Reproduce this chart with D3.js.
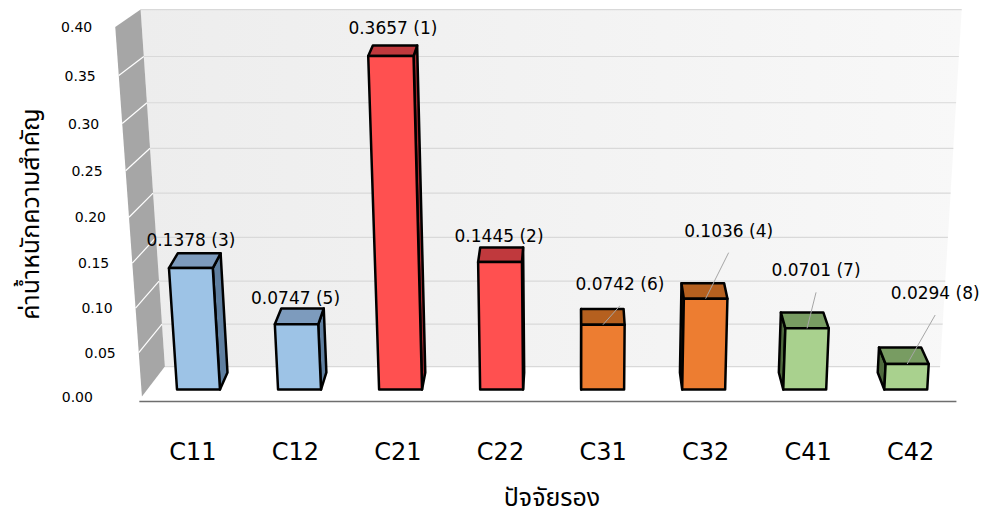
<!DOCTYPE html>
<html>
<head>
<meta charset="utf-8">
<script src="https://cdn.jsdelivr.net/npm/d3@7"></script>
<style>
  html, body { margin: 0; padding: 0; background: #fff; }
  svg { display: block; }
  text { font-family: "DejaVu Sans", Verdana, sans-serif; fill: #000; }
  .thai { font-family: "Noto Sans Thai", "Tahoma", "Leelawadee UI", "Noto Sans", sans-serif; }
</style>
</head>
<body>
<svg id="chart" width="1000" height="526"></svg>
<script>
// ---- data ----
const categories = ["C11", "C12", "C21", "C22", "C31", "C32", "C41", "C42"];
const weights    = [0.1378, 0.0747, 0.3657, 0.1445, 0.0742, 0.1036, 0.0701, 0.0294];
const ranks      = [3, 5, 1, 2, 6, 4, 7, 8];
const groups     = ["C1", "C1", "C2", "C2", "C3", "C3", "C4", "C4"];
const tickValues = [0, 0.05, 0.10, 0.15, 0.20, 0.25, 0.30, 0.35, 0.40];
const yTitle = "ค่าน้ำหนักความสำคัญ";
const xTitle = "ปัจจัยรอง";

// ---- styling ----
const palette = {
  C1: { front: "#9dc3e6", top: "#7d9bbd", side: "#5f7fa0" },
  C2: { front: "#ff5050", top: "#c0393d", side: "#a02a2e" },
  C3: { front: "#ed7d31", top: "#b5601f", side: "#9c4f18" },
  C4: { front: "#a9d18e", top: "#789c62", side: "#4e6a3d" }
};
// manual label placement (pixel offsets from the top-front centre of each column)
const labelLayout = [
  { dx: 0, dy: -22, leader: false },
  { dx: -1, dy: -20, leader: false },
  { dx: 2, dy: -22, leader: false },
  { dx: -1, dy: -20, leader: false },
  { dx: 17, dy: -35, leader: true },
  { dx: 23, dy: -62, leader: true },
  { dx: 9, dy: -52, leader: true },
  { dx: 28, dy: -65, leader: true }
];

// ---- 3D camera (pinhole, pitched down) ----
const F = 2038, CX = 575, CY = 263;
const TH = Math.atan(677 / 2038);
const cT = Math.cos(TH), sT = Math.sin(TH);
function proj(X, Y, Z) {
  const yc = Y * cT + Z * sT;
  const zc = -Y * sT + Z * cT;
  return [CX + F * X / zc, CY - F * yc / zc];
}
const pts = arr => arr.map(p => proj(p[0], p[1], p[2]).join(",")).join(" ");

// world extents
const Z_FLOOR_FRONT = 2.443, Z_WALL_FRONT = 2.4596, Z_BAR_FRONT = 2.484, Z_BAR_BACK = 2.545, Z_BACK = 2.567;
const X_LEFT = -0.5537, X_RIGHT = 0.4929, X_LEFT_OUT = -0.563;

// scales
const yWorld = d3.scaleLinear().domain([0, 0.4]).range([-1, -0.5124]);
const xWorld = d3.scaleBand().domain(categories).range([-0.560, 0.500])
  .paddingInner(0.575).paddingOuter(0.2875);

const svg = d3.select("#chart");
const y0 = yWorld(0), yTop = yWorld(0.4);

// back wall
const defs = svg.append("defs");
const grad = defs.append("linearGradient").attr("id", "wallGrad")
  .attr("x1", "0").attr("x2", "1").attr("y1", "0").attr("y2", "0");
grad.append("stop").attr("offset", "0").attr("stop-color", "#ededed");
grad.append("stop").attr("offset", "1").attr("stop-color", "#f8f8f8");

svg.append("polygon")
  .attr("points", pts([[X_LEFT, y0, Z_BACK], [X_RIGHT, y0, Z_BACK], [X_RIGHT, yTop, Z_BACK], [X_LEFT, yTop, Z_BACK]]))
  .attr("fill", "url(#wallGrad)");

// gridlines on back wall
svg.append("g").selectAll("line").data(tickValues).join("line")
  .each(function (v) {
    const a = proj(X_LEFT, yWorld(v), Z_BACK), b = proj(X_RIGHT, yWorld(v), Z_BACK);
    d3.select(this).attr("x1", a[0]).attr("y1", a[1]).attr("x2", b[0]).attr("y2", b[1]);
  })
  .attr("stroke", "#d9d9d9").attr("stroke-width", 1.2);

// side wall
svg.append("polygon")
  .attr("points", pts([[X_LEFT_OUT, y0, Z_WALL_FRONT], [X_LEFT, y0, Z_BACK], [X_LEFT, yTop, Z_BACK], [X_LEFT_OUT, yTop, Z_WALL_FRONT]]))
  .attr("fill", "#a6a6a6");
svg.append("g").selectAll("line").data(tickValues.slice(1, -1)).join("line")
  .each(function (v) {
    const a = proj(X_LEFT_OUT, yWorld(v), Z_WALL_FRONT), b = proj(X_LEFT, yWorld(v), Z_BACK);
    d3.select(this).attr("x1", a[0]).attr("y1", a[1]).attr("x2", b[0]).attr("y2", b[1]);
  })
  .attr("stroke", "#ffffff").attr("stroke-width", 1.2);

// floor front edge
{
  const a = proj(X_LEFT_OUT, y0, Z_FLOOR_FRONT), b = proj(X_RIGHT, y0, Z_FLOOR_FRONT);
  svg.append("line").attr("x1", a[0]).attr("y1", a[1]).attr("x2", b[0]).attr("y2", b[1])
    .attr("stroke", "#6e6e6e").attr("stroke-width", 1.5);
}

// value tick labels along the wall's front edge
svg.append("g").selectAll("text").data(tickValues).join("text")
  .each(function (v) {
    const p = proj(X_LEFT_OUT, yWorld(v), Z_WALL_FRONT);
    const shift = v === 0 ? -26 : 0;
    d3.select(this).attr("x", p[0] - 23 + shift).attr("y", p[1] + 5);
  })
  .attr("text-anchor", "end").attr("font-size", 14)
  .text(d => d3.format(".2f")(d));

// columns
const bars = categories.map((c, i) => {
  const xl = xWorld(c), xr = xl + xWorld.bandwidth();
  const yt = yWorld(weights[i]);
  return { c, i, xl, xr, yt, col: palette[groups[i]] };
});

const gBars = svg.append("g")
  .attr("stroke", "#000").attr("stroke-width", 2.5).attr("stroke-linejoin", "round");
bars.forEach(b => {
  const zf = Z_BAR_FRONT, zb = Z_BAR_BACK;
  // visible side face
  if (b.xr < 0) {
    gBars.append("polygon").attr("fill", b.col.side)
      .attr("points", pts([[b.xr, y0, zf], [b.xr, y0, zb], [b.xr, b.yt, zb], [b.xr, b.yt, zf]]));
  } else if (b.xl > 0) {
    gBars.append("polygon").attr("fill", b.col.side)
      .attr("points", pts([[b.xl, y0, zf], [b.xl, y0, zb], [b.xl, b.yt, zb], [b.xl, b.yt, zf]]));
  }
  // top face
  gBars.append("polygon").attr("fill", b.col.top)
    .attr("points", pts([[b.xl, b.yt, zf], [b.xr, b.yt, zf], [b.xr, b.yt, zb], [b.xl, b.yt, zb]]));
  // front face
  gBars.append("polygon").attr("fill", b.col.front)
    .attr("points", pts([[b.xl, y0, zf], [b.xr, y0, zf], [b.xr, b.yt, zf], [b.xl, b.yt, zf]]));
});

// value labels with leader lines
bars.forEach(b => {
  const top = proj((b.xl + b.xr) / 2, b.yt, Z_BAR_FRONT);
  const L = labelLayout[b.i];
  const lx = top[0] + L.dx, ly = top[1] + L.dy;
  if (L.leader) {
    svg.append("line")
      .attr("x1", lx).attr("y1", ly + 16).attr("x2", top[0]).attr("y2", top[1])
      .attr("stroke", "#a6a6a6").attr("stroke-width", 1);
  }
  svg.append("text").attr("x", lx).attr("y", ly)
    .attr("text-anchor", "middle").attr("font-size", 17)
    .text(`${d3.format(".4f")(weights[b.i])} (${ranks[b.i]})`);
});

// category labels
svg.append("g").selectAll("text").data(categories).join("text")
  .attr("x", c => proj(xWorld(c) + xWorld.bandwidth() / 2, y0, Z_FLOOR_FRONT)[0])
  .attr("y", 460)
  .attr("text-anchor", "middle").attr("font-size", 24)
  .text(c => c);

// axis titles
svg.append("text").attr("class", "thai")
  .attr("x", 552).attr("y", 506).attr("text-anchor", "middle").attr("font-size", 25)
  .text(xTitle);
svg.append("text").attr("class", "thai")
  .attr("transform", "translate(39,214) rotate(-90)")
  .attr("text-anchor", "middle").attr("font-size", 25)
  .text(yTitle);
</script>
</body>
</html>
